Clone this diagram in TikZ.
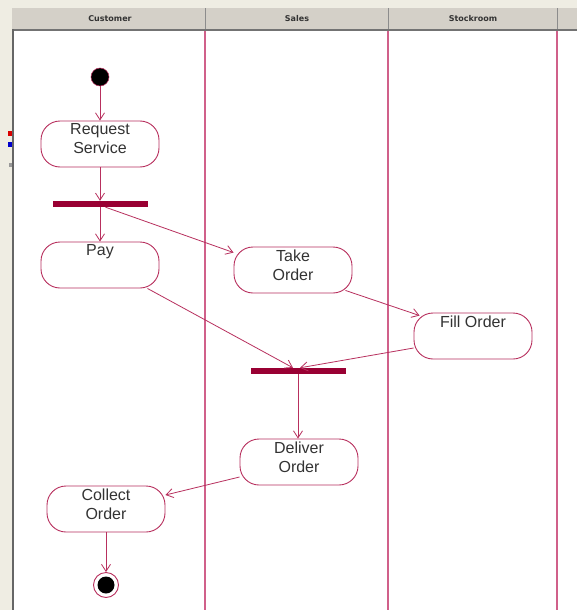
\documentclass[tikz,border=0pt]{standalone}
\usepackage{fontspec}
\setmainfont{Liberation Sans}
\newfontfamily\headfont{DejaVu Sans}
\usetikzlibrary{arrows.meta,calc}
\definecolor{frame}{HTML}{EFEDE3}
\definecolor{headgray}{HTML}{D4D0C8}
\definecolor{lanecol}{HTML}{D0608A}
\definecolor{edgecol}{HTML}{B8305E}
\definecolor{barcol}{HTML}{990033}
\definecolor{txtcol}{HTML}{333333}
\tikzset{
  activity/.style={draw=edgecol, line width=0.9pt, rounded corners=19pt,
    minimum width=118pt, minimum height=46pt, fill=white, inner sep=0pt,
    label={[text=txtcol, font=\fontsize{16}{19}\selectfont, align=center,
      anchor=north, inner sep=1pt, yshift=-2pt]north:#1}},
  syncbar/.style={fill=barcol, draw=none, minimum width=95pt, minimum height=6pt, inner sep=0pt},
  flow/.style={draw=edgecol, line width=0.8pt, -{Straight Barb[length=7pt,width=9pt]}},
  lane/.style={fill=lanecol},
  headtext/.style={font=\headfont\bfseries\fontsize{8}{9}\selectfont, text=black!80}
}
\begin{document}
\begin{tikzpicture}[x=1pt,y=-1pt]
  \useasboundingbox (0,0) rectangle (577,610);
  % window frame and white canvas
  \fill[frame] (0,0) rectangle (577,610);
  \fill[white] (13,30) rectangle (577,610);
  % header strip
  \fill[headgray] (12,8) rectangle (577,29);
  \draw[black!55, line width=2pt] (12,30) -- (577,30);
  \draw[black!60, line width=2pt] (13,29) -- (13,610);
  % swimlane separators
  \fill[black!45] (204.6,8) rectangle (205.8,29);
  \fill[black!45] (387.6,8) rectangle (388.8,29);
  \fill[black!45] (556.6,8) rectangle (557.8,29);
  \fill[lane] (204.2,31) rectangle (205.8,610);
  \fill[lane] (387.2,31) rectangle (388.8,610);
  \fill[lane] (556.2,31) rectangle (557.8,610);
  \node[headtext] (hcust) at (110,18.5) {Customer};
  \node[headtext] (hsales) at (297,18.5) {Sales};
  \node[headtext] (hstock) at (473,18.5) {Stockroom};
  % small marks on the frame edge
  \fill[red!85!black] (8,131) rectangle (12,136);
  \fill[blue!80!black] (8,142) rectangle (12,147);
  \fill[black!40] (9,163) rectangle (12,167);

  % start and end states
  \node[circle, fill=black, draw=edgecol, line width=0.5pt, minimum size=18pt, inner sep=0pt] (start) at (100,77) {};
  \node[circle, draw=edgecol, line width=0.9pt, fill=white, minimum size=25pt, inner sep=0pt] (stop) at (106,585) {};
  \fill[black] (stop.center) circle (8.5pt);

  % activities
  \node[activity={Request\\Service}] (req) at (100,144) {};
  \node[activity=Pay] (pay) at (100,265) {};
  \node[activity={Take\\Order}] (take) at (293,270) {};
  \node[activity={Fill Order}] (fill) at (473,336) {};
  \node[activity={Deliver\\Order}] (deliver) at (299,462) {};
  \node[activity={Collect\\Order}] (collect) at (106,509) {};

  % fork and join bars
  \node[syncbar] (fork) at (100.5,204) {};
  \node[syncbar] (join) at (298,371) {};

  % control flows
  \draw[flow] (start) -- (req);
  \draw[flow] (req) -- (fork.north -| req);
  \draw[flow] (fork.south -| pay) -- (pay);
  \draw[flow] ($(fork.south)+(5,0)$) -- ($(take.north west)+(0,6)$);
  \draw[flow] ($(pay.south east)+(-12,0)$) -- ($(join.north)+(-5,0)$);
  \draw[flow] ($(take.south east)+(-7,-3)$) -- ($(fill.north west)+(6,3)$);
  \draw[flow] ($(fill.west)+(0,12)$) -- ($(join.north)+(2,0)$);
  \draw[flow] (join.south) -- (join.south |- deliver.north);
  \draw[flow] ($(deliver.west)+(0,15)$) -- ($(collect.east)+(0,-14)$);
  \draw[flow] (collect) -- (stop);
\end{tikzpicture}
\end{document}
